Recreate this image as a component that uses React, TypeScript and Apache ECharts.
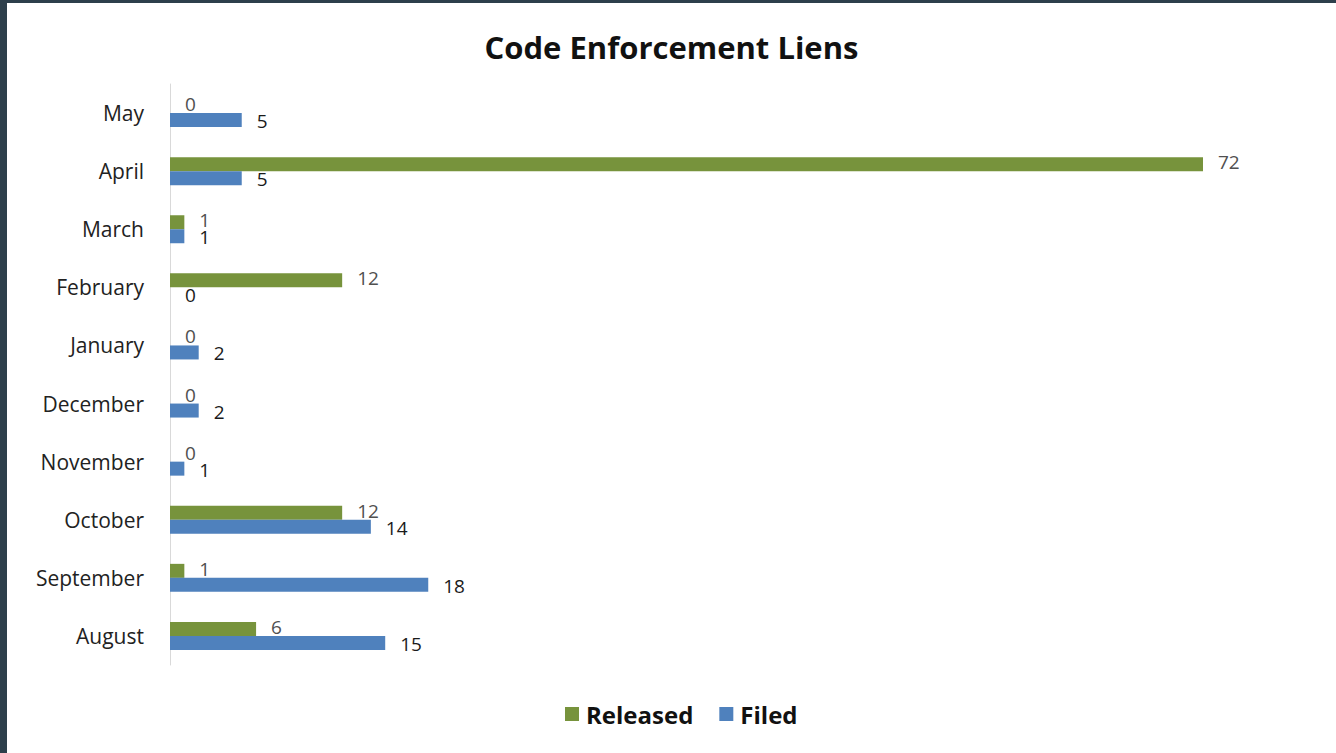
import React, { useEffect, useRef } from "react";
import * as echarts from "echarts";

const categories = ["August", "September", "October", "November", "December", "January", "February", "March", "April", "May"];
const released = [6, 1, 12, 0, 0, 0, 12, 1, 72, 0];
const filed = [15, 18, 14, 1, 2, 2, 0, 1, 5, 5];
const seriesNames = ["Released", "Filed"];

const FONT = "'Open Sans', Lato, sans-serif";

export default function App() {
  const ref = useRef<HTMLDivElement>(null);
  useEffect(() => {
    if (!ref.current) return;
    const chart = echarts.init(ref.current, undefined, { renderer: "svg" });
    chart.setOption({
      animation: false,
      backgroundColor: "#ffffff",
      title: {
        text: "Code Enforcement Liens",
        left: "center",
        top: 23,
        textStyle: { fontFamily: FONT, fontSize: 31, fontWeight: "bold", color: "#111111" },
      },
      legend: {
        data: seriesNames,
        left: 553,
        top: 694,
        itemWidth: 14,
        itemHeight: 14,
        itemGap: 26,
        icon: "rect",
        textStyle: { fontFamily: FONT, fontSize: 24, fontWeight: "bold", color: "#111111", padding: [0, 0, 0, 2] },
      },
      grid: { left: 163, right: 133, top: 81, bottom: 88, containLabel: false },
      xAxis: {
        type: "value",
        min: 0,
        max: 72,
        show: false,
        splitLine: { show: false },
      },
      yAxis: {
        type: "category",
        data: categories,
        axisLine: { show: true, lineStyle: { color: "#d9d9d9", width: 1 } },
        axisTick: { show: false },
        axisLabel: { margin: 26, fontFamily: FONT, fontSize: 21, color: "#222222" },
      },
      series: [
        {
          name: seriesNames[0],
          type: "bar",
          data: released,
          barWidth: 14,
          barGap: "0%",
          itemStyle: { color: "#77933c" },
          label: {
            show: true,
            position: "right",
            distance: 15,
            offset: [0, -2],
            fontFamily: FONT,
            fontSize: 19,
            color: "#505050",
          },
        },
        {
          name: seriesNames[1],
          type: "bar",
          data: filed,
          barWidth: 14,
          barGap: "0%",
          itemStyle: { color: "#4f81bd" },
          label: {
            show: true,
            position: "right",
            distance: 15,
            offset: [0, 1],
            fontFamily: FONT,
            fontSize: 19,
            color: "#1a1a1a",
          },
        },
      ],
    });
    return () => chart.dispose();
  }, []);

  return (
    <div style={{ position: "fixed", left: 0, top: 0, width: 1336, height: 753, background: "#2d3f4b" }}>
      <div ref={ref} style={{ position: "absolute", left: 7, top: 3, width: 1329, height: 750 }} />
    </div>
  );
}
